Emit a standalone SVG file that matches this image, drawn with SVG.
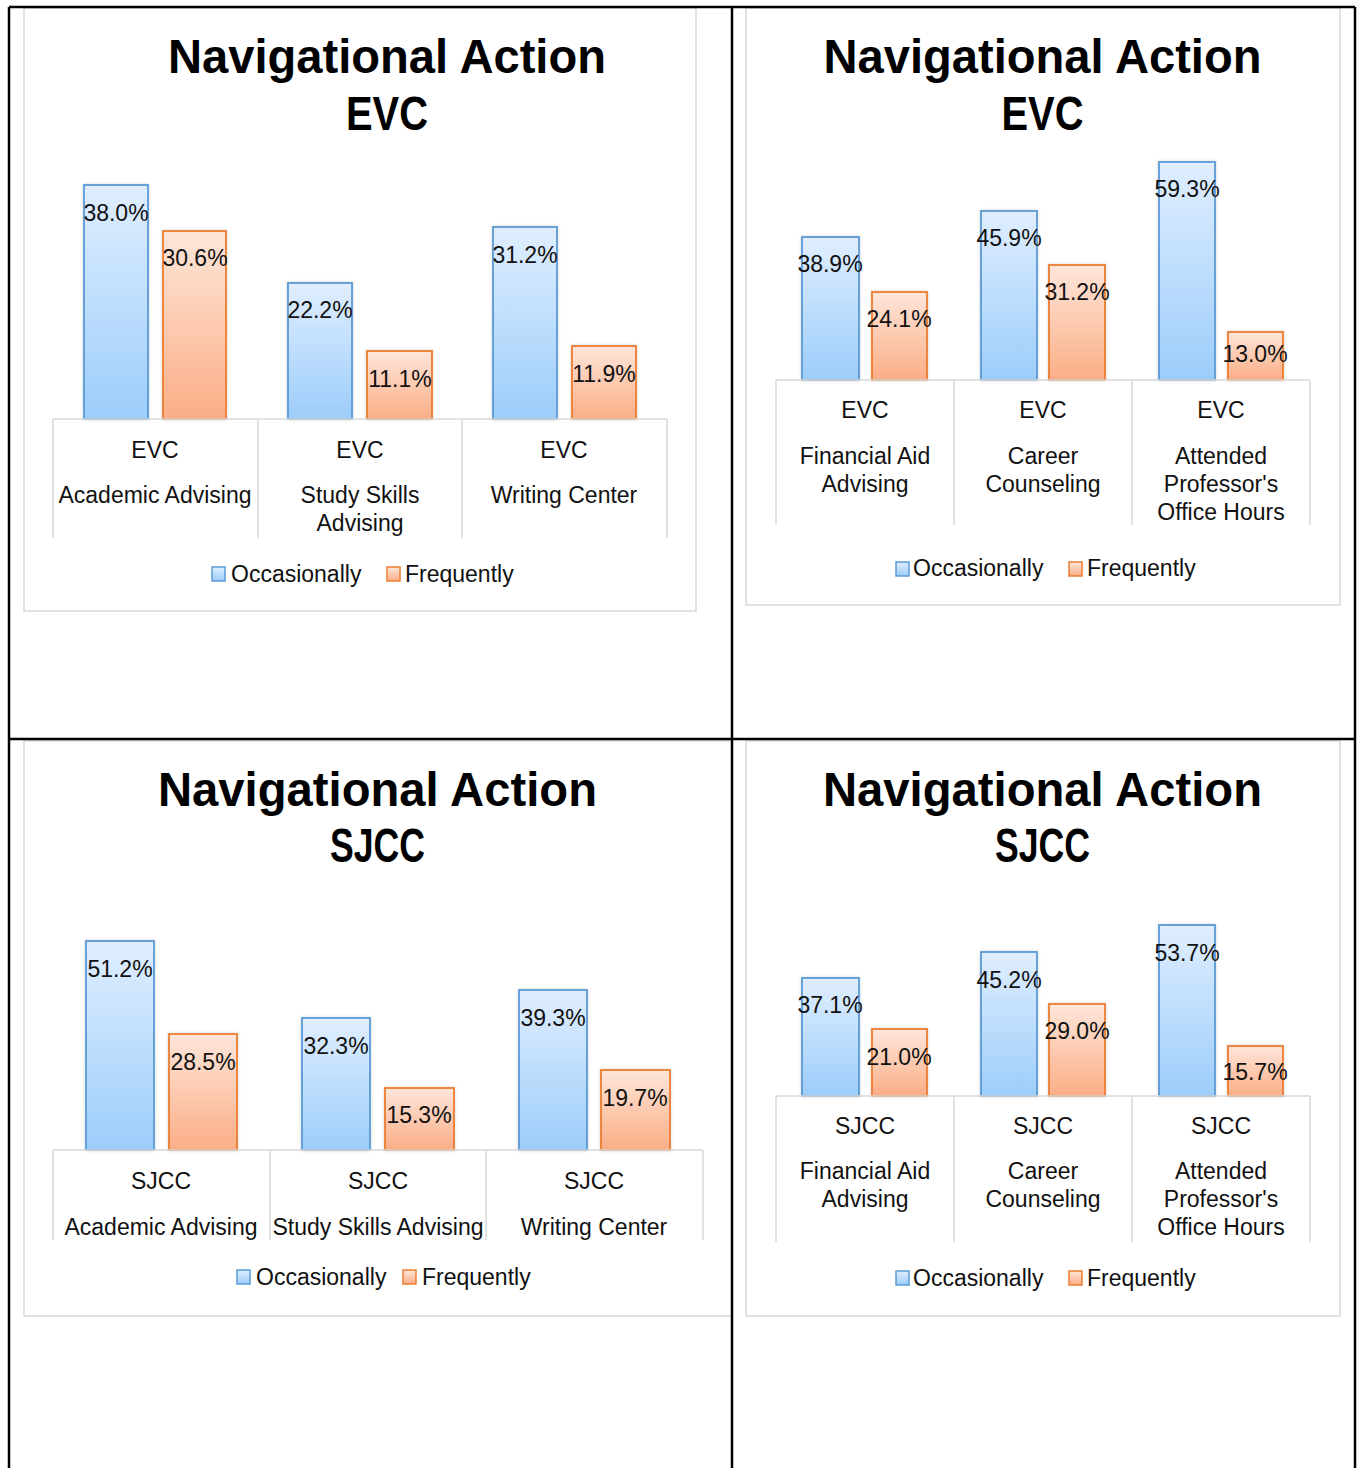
<svg xmlns="http://www.w3.org/2000/svg" width="1361" height="1468" viewBox="0 0 1361 1468">
<style>
.frame{fill:#fff;stroke:#d9d9d9;stroke-width:1.5}
.tbl{stroke:#000;stroke-width:2.5;fill:none}
.axis{stroke:#d9d9d9;stroke-width:1.5;fill:none}
.bo{fill:url(#gb);stroke:#5b9bd5;stroke-width:1.8;filter:url(#sh)}
.bf{fill:url(#go);stroke:#ed7d31;stroke-width:1.8;filter:url(#sh)}
.lo{fill:url(#gb);stroke:#5b9bd5;stroke-width:1.5}
.lf{fill:url(#go);stroke:#ed7d31;stroke-width:1.5}
.title{font-family:"Liberation Sans",Arial,sans-serif;font-weight:bold;font-size:48px;fill:#000;text-anchor:middle}
.t{font-family:"Liberation Sans",Arial,sans-serif;font-size:23px;fill:#111;text-anchor:middle}
.lg{font-family:"Liberation Sans",Arial,sans-serif;font-size:23px;fill:#111}
</style>
<defs>
<linearGradient id="gb" x1="0" y1="0" x2="0" y2="1"><stop offset="0" stop-color="#e0eeff"/><stop offset="1" stop-color="#9ccdfa"/></linearGradient>
<linearGradient id="go" x1="0" y1="0" x2="0" y2="1"><stop offset="0" stop-color="#fee6da"/><stop offset="1" stop-color="#fbae86"/></linearGradient>
<filter id="sh" x="-20%" y="-5%" width="140%" height="110%"><feDropShadow dx="0" dy="0" stdDeviation="1.5" flood-color="#000" flood-opacity="0.18"/></filter>
</defs>
<rect width="1361" height="1468" fill="#fff"/>

<!-- Chart 1 -->
<g id="chart-evc-1">
<rect class="frame" x="24" y="8" width="672" height="603"/>
<text class="title" x="387" y="73" textLength="438" lengthAdjust="spacingAndGlyphs">Navigational Action</text>
<text class="title" x="387" y="130" textLength="82" lengthAdjust="spacingAndGlyphs">EVC</text>
<rect class="bo" x="84" y="185" width="64" height="234"/>
<rect class="bf" x="163" y="231" width="63" height="188"/>
<rect class="bo" x="288" y="283" width="64" height="136"/>
<rect class="bf" x="367" y="351" width="65" height="68"/>
<rect class="bo" x="493" y="227" width="64" height="192"/>
<rect class="bf" x="572" y="346" width="64" height="73"/>
<path class="axis" d="M53 419H667M53 419V538M258 419V538M462 419V538M667 419V538"/>
<text class="t" x="116" y="221">38.0%</text>
<text class="t" x="195" y="266">30.6%</text>
<text class="t" x="320" y="318">22.2%</text>
<text class="t" x="400" y="387">11.1%</text>
<text class="t" x="525" y="263">31.2%</text>
<text class="t" x="604" y="382">11.9%</text>
<text class="t" x="155" y="458">EVC</text>
<text class="t" x="155" y="503">Academic Advising</text>
<text class="t" x="360" y="458">EVC</text>
<text class="t" x="360" y="503">Study Skills</text>
<text class="t" x="360" y="531">Advising</text>
<text class="t" x="564" y="458">EVC</text>
<text class="t" x="564" y="503">Writing Center</text>
<rect class="lo" x="212" y="567" width="13" height="14"/>
<text class="lg" x="231" y="582">Occasionally</text>
<rect class="lf" x="387" y="567" width="13" height="14"/>
<text class="lg" x="405" y="582">Frequently</text>
</g>

<!-- Chart 2 -->
<g id="chart-evc-2">
<rect class="frame" x="746" y="8" width="594" height="597"/>
<text class="title" x="1042.5" y="73" textLength="438" lengthAdjust="spacingAndGlyphs">Navigational Action</text>
<text class="title" x="1042.5" y="130" textLength="82" lengthAdjust="spacingAndGlyphs">EVC</text>
<rect class="bo" x="802" y="237" width="57" height="143"/>
<rect class="bf" x="872" y="292" width="55" height="88"/>
<rect class="bo" x="981" y="211" width="56" height="169"/>
<rect class="bf" x="1049" y="265" width="56" height="115"/>
<rect class="bo" x="1159" y="162" width="56" height="218"/>
<rect class="bf" x="1228" y="332" width="55" height="48"/>
<path class="axis" d="M776 380H1310M776 380V525M954 380V525M1132 380V525M1310 380V525"/>
<text class="t" x="830" y="272">38.9%</text>
<text class="t" x="899" y="327">24.1%</text>
<text class="t" x="1009" y="246">45.9%</text>
<text class="t" x="1077" y="300">31.2%</text>
<text class="t" x="1187" y="197">59.3%</text>
<text class="t" x="1255" y="362">13.0%</text>
<text class="t" x="865" y="418">EVC</text>
<text class="t" x="865" y="464">Financial Aid</text>
<text class="t" x="865" y="492">Advising</text>
<text class="t" x="1043" y="418">EVC</text>
<text class="t" x="1043" y="464">Career</text>
<text class="t" x="1043" y="492">Counseling</text>
<text class="t" x="1221" y="418">EVC</text>
<text class="t" x="1221" y="464">Attended</text>
<text class="t" x="1221" y="492">Professor's</text>
<text class="t" x="1221" y="520">Office Hours</text>
<rect class="lo" x="896" y="562" width="13" height="14"/>
<text class="lg" x="913" y="576">Occasionally</text>
<rect class="lf" x="1069" y="562" width="13" height="14"/>
<text class="lg" x="1087" y="576">Frequently</text>
</g>

<!-- Chart 3 -->
<g id="chart-sjcc-1">
<rect class="frame" x="24" y="741" width="708" height="575"/>
<text class="title" x="377.5" y="806" textLength="439" lengthAdjust="spacingAndGlyphs">Navigational Action</text>
<text class="title" x="377.5" y="862" textLength="95" lengthAdjust="spacingAndGlyphs">SJCC</text>
<rect class="bo" x="86" y="941" width="68" height="209"/>
<rect class="bf" x="169" y="1034" width="68" height="116"/>
<rect class="bo" x="302" y="1018" width="68" height="132"/>
<rect class="bf" x="385" y="1088" width="69" height="62"/>
<rect class="bo" x="519" y="990" width="68" height="160"/>
<rect class="bf" x="601" y="1070" width="69" height="80"/>
<path class="axis" d="M53 1150H703M53 1150V1240M270 1150V1240M486 1150V1240M703 1150V1240"/>
<text class="t" x="120" y="977">51.2%</text>
<text class="t" x="203" y="1070">28.5%</text>
<text class="t" x="336" y="1054">32.3%</text>
<text class="t" x="419" y="1123">15.3%</text>
<text class="t" x="553" y="1026">39.3%</text>
<text class="t" x="635" y="1106">19.7%</text>
<text class="t" x="161" y="1189">SJCC</text>
<text class="t" x="161" y="1235">Academic Advising</text>
<text class="t" x="378" y="1189">SJCC</text>
<text class="t" x="378" y="1235">Study Skills Advising</text>
<text class="t" x="594" y="1189">SJCC</text>
<text class="t" x="594" y="1235">Writing Center</text>
<rect class="lo" x="237" y="1270" width="13" height="14"/>
<text class="lg" x="256" y="1285">Occasionally</text>
<rect class="lf" x="403" y="1270" width="13" height="14"/>
<text class="lg" x="422" y="1285">Frequently</text>
</g>

<!-- Chart 4 -->
<g id="chart-sjcc-2">
<rect class="frame" x="746" y="741" width="594" height="575"/>
<text class="title" x="1042.5" y="806" textLength="439" lengthAdjust="spacingAndGlyphs">Navigational Action</text>
<text class="title" x="1042.5" y="862" textLength="95" lengthAdjust="spacingAndGlyphs">SJCC</text>
<rect class="bo" x="802" y="978" width="57" height="118"/>
<rect class="bf" x="872" y="1029" width="55" height="67"/>
<rect class="bo" x="981" y="952" width="56" height="144"/>
<rect class="bf" x="1049" y="1004" width="56" height="92"/>
<rect class="bo" x="1159" y="925" width="56" height="171"/>
<rect class="bf" x="1228" y="1046" width="55" height="50"/>
<path class="axis" d="M776 1096H1310M776 1096V1242M954 1096V1242M1132 1096V1242M1310 1096V1242"/>
<text class="t" x="830" y="1013">37.1%</text>
<text class="t" x="899" y="1065">21.0%</text>
<text class="t" x="1009" y="988">45.2%</text>
<text class="t" x="1077" y="1039">29.0%</text>
<text class="t" x="1187" y="961">53.7%</text>
<text class="t" x="1255" y="1080">15.7%</text>
<text class="t" x="865" y="1134">SJCC</text>
<text class="t" x="865" y="1179">Financial Aid</text>
<text class="t" x="865" y="1207">Advising</text>
<text class="t" x="1043" y="1134">SJCC</text>
<text class="t" x="1043" y="1179">Career</text>
<text class="t" x="1043" y="1207">Counseling</text>
<text class="t" x="1221" y="1134">SJCC</text>
<text class="t" x="1221" y="1179">Attended</text>
<text class="t" x="1221" y="1207">Professor's</text>
<text class="t" x="1221" y="1235">Office Hours</text>
<rect class="lo" x="896" y="1271" width="13" height="14"/>
<text class="lg" x="913" y="1286">Occasionally</text>
<rect class="lf" x="1069" y="1271" width="13" height="14"/>
<text class="lg" x="1087" y="1286">Frequently</text>
</g>

<!-- table grid -->
<g id="table-grid">
<path class="tbl" d="M9 7H1355M9 7V1468M732 7V1468M1355 7V1468M9 739H1355"/>
</g>
</svg>
